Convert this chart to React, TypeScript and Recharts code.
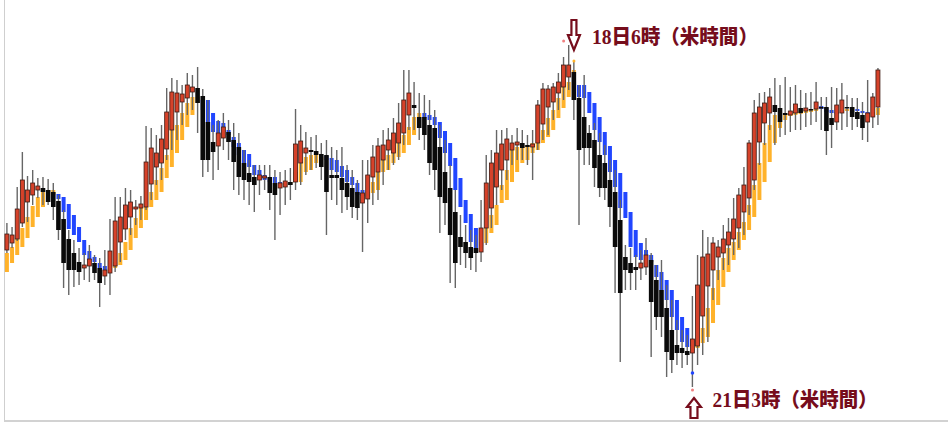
import { Bar, ComposedChart, ReferenceDot, XAxis, YAxis } from "recharts";

// hourly candles, values in chart units (higher = higher price)
const openPrices = [
  200, 207, 211, 227, 248, 255, 260, 262, 260, 258,
  249, 231, 211, 197, 188, 182, 184, 187, 182, 174,
  177, 184, 208, 221, 233, 241, 242, 243, 266, 283,
  287, 301, 320, 338, 348, 352, 358, 362, 354, 328,
  308, 304, 312, 318, 310, 303, 287, 277, 273, 270,
  272, 273, 267, 262, 263, 268, 268, 287, 297, 300,
  299, 296, 295, 275, 275, 272, 267, 262, 258, 247,
  251, 273, 278, 290, 300, 297, 307, 317, 335, 345,
  333, 333, 325, 322, 303, 278, 262, 238, 213, 208,
  203, 202, 198, 222, 242, 263, 280, 290, 300, 305,
  307, 305, 303, 307, 326, 343, 348, 357, 363, 373,
  378, 352, 333, 317, 310, 295, 287, 270, 258, 230,
  193, 187, 183, 182, 183, 190, 170, 160, 142, 120,
  105, 102, 99, 97, 104, 134, 164, 180, 193, 197,
  205, 211, 222, 238, 252, 270, 308, 327, 337, 345,
  342, 337, 335, 337, 342, 339, 341, 341, 343, 343,
  332, 328, 337, 343, 343, 338, 335, 328, 333, 343,
];
const highPrices = [
  227, 223, 263, 298, 274, 280, 272, 273, 271, 267,
  255, 240, 220, 210, 202, 197, 205, 195, 192, 200,
  231, 253, 253, 262, 260, 250, 254, 324, 322, 315,
  325, 362, 372, 370, 365, 377, 375, 383, 361, 350,
  325, 330, 337, 330, 327, 317, 300, 290, 285, 285,
  285, 285, 280, 278, 280, 282, 341, 325, 318, 313,
  315, 307, 310, 303, 300, 303, 285, 280, 270, 290,
  290, 305, 312, 320, 322, 332, 347, 380, 380, 368,
  357, 355, 350, 340, 325, 310, 285, 260, 235, 225,
  220, 215, 250, 295, 300, 320, 320, 322, 315, 322,
  320, 315, 320, 350, 367, 365, 367, 377, 393, 405,
  388, 365, 375, 325, 327, 317, 305, 290, 280, 250,
  205, 202, 195, 200, 212, 197, 185, 190, 165, 150,
  130, 120, 115, 154, 195, 220, 213, 213, 210, 225,
  232, 252, 262, 283, 310, 350, 357, 358, 362, 372,
  365, 373, 363, 365, 360, 357, 358, 368, 353, 353,
  363, 362, 367, 355, 352, 352, 348, 370, 357, 382,
];
const lowPrices = [
  197, 202, 209, 223, 228, 245, 252, 245, 245, 230,
  210, 162, 155, 163, 165, 170, 168, 170, 143, 165,
  155, 178, 188, 210, 215, 225, 230, 240, 250, 265,
  270, 290, 300, 310, 325, 335, 340, 317, 273, 278,
  270, 280, 300, 290, 260, 255, 250, 245, 238, 255,
  260, 240, 210, 235, 245, 250, 260, 265, 275, 280,
  282, 270, 215, 250, 245, 237, 240, 232, 230, 198,
  227, 245, 250, 265, 280, 285, 290, 305, 320, 320,
  310, 300, 275, 260, 217, 225, 167, 162, 185, 182,
  180, 178, 188, 205, 222, 245, 260, 270, 285, 290,
  290, 285, 270, 300, 310, 315, 330, 340, 350, 360,
  330, 225, 285, 285, 263, 253, 250, 223, 157, 88,
  160, 160, 160, 170, 175, 93, 120, 113, 73, 77,
  85, 82, 85, 63, 85, 95, 108, 150, 170, 180,
  185, 195, 202, 215, 235, 260, 285, 305, 320, 305,
  313, 315, 318, 320, 320, 323, 325, 328, 320, 295,
  302, 320, 320, 323, 320, 323, 310, 308, 322, 325,
];
const closePrices = [
  216, 215, 241, 270, 260, 267, 264, 258, 248, 243,
  220, 187, 180, 180, 178, 185, 191, 177, 167, 180,
  199, 229, 233, 245, 248, 243, 246, 288, 302, 297,
  311, 338, 358, 357, 356, 365, 363, 347, 290, 290,
  298, 317, 323, 308, 288, 273, 270, 268, 265, 275,
  274, 257, 255, 267, 269, 265, 306, 309, 302, 298,
  295, 283, 258, 272, 272, 260, 253, 243, 242, 257,
  275, 293, 304, 305, 310, 317, 327, 350, 357, 342,
  322, 315, 287, 280, 253, 247, 215, 187, 203, 197,
  192, 197, 222, 267, 287, 297, 306, 311, 307, 308,
  302, 303, 306, 345, 361, 361, 363, 368, 385, 385,
  350, 300, 302, 302, 282, 262, 262, 243, 203, 157,
  180, 177, 180, 187, 195, 148, 133, 133, 98, 90,
  97, 97, 95, 111, 165, 193, 196, 207, 203, 211,
  218, 231, 255, 265, 307, 337, 343, 347, 353, 338,
  328, 335, 339, 346, 337, 342, 340, 348, 342, 319,
  325, 345, 350, 342, 333, 331, 322, 337, 353, 380,
];
// smoothed heikin-ashi overlay (orange = rising, blue = falling)
const haOpenPrices = [
  178, 187, 195, 203, 212, 223, 233, 243, 252, 255,
  256, 253, 246, 235, 223, 210, 199, 193, 187, 184,
  177, 182, 185, 190, 200, 212, 222, 230, 243, 250,
  258, 272, 283, 297, 310, 323, 335, 347, 350, 350,
  337, 329, 327, 320, 313, 307, 300, 296, 285, 280,
  275, 273, 273, 268, 265, 266, 268, 268, 278, 280,
  287, 290, 294, 292, 290, 284, 280, 273, 267, 260,
  253, 257, 260, 278, 280, 287, 293, 297, 305, 315,
  333, 337, 335, 333, 328, 319, 307, 292, 272, 250,
  236, 222, 208, 207, 217, 225, 247, 250, 268, 278,
  287, 290, 297, 300, 307, 313, 320, 332, 342, 353,
  377, 365, 365, 358, 347, 333, 318, 304, 290, 277,
  258, 238, 220, 207, 200, 195, 185, 178, 170, 160,
  150, 133, 122, 111, 102, 107, 113, 127, 145, 163,
  178, 190, 200, 210, 220, 233, 250, 268, 288, 307,
  322, 330, 334, 335, 336, 337, 338, 339, 344, 342,
  340, 338, 337, 339, 340, 341, 339, 338, 334, 335,
];
const haClosePrices = [
  197, 203, 211, 222, 233, 244, 253, 258, 260, 260,
  251, 238, 221, 215, 208, 195, 190, 188, 182, 180,
  182, 188, 197, 208, 222, 232, 242, 243, 258, 270,
  282, 295, 325, 325, 337, 347, 353, 353, 340, 328,
  318, 315, 323, 315, 303, 295, 287, 283, 275, 273,
  270, 268, 267, 265, 267, 268, 278, 287, 293, 295,
  297, 293, 290, 280, 278, 273, 268, 265, 255, 254,
  258, 268, 280, 292, 295, 302, 312, 315, 323, 333,
  337, 332, 330, 325, 312, 297, 284, 260, 243, 227,
  208, 202, 204, 222, 235, 245, 265, 280, 300, 303,
  305, 303, 307, 310, 320, 332, 340, 352, 363, 368,
  380, 353, 352, 337, 320, 308, 295, 278, 263, 242,
  232, 203, 193, 190, 192, 188, 173, 160, 150, 133,
  120, 108, 103, 104, 110, 122, 142, 162, 180, 192,
  202, 208, 218, 228, 245, 265, 287, 307, 325, 335,
  337, 336, 337, 338, 339, 340, 340, 341, 341, 338,
  337, 336, 340, 341, 342, 339, 337, 336, 338, 342,
];

const topLabel = "18日6時（米時間）";
const bottomLabel = "21日3時（米時間）";
const topIndex = 110;
const bottomIndex = 133;

const candles = openPrices.map((open, i) => ({
  idx: i,
  open,
  high: highPrices[i],
  low: lowPrices[i],
  close: closePrices[i],
  haOpen: haOpenPrices[i],
  haClose: haClosePrices[i],
}));

type Candle = (typeof candles)[number];

const candleRange = (d: Candle): [number, number] => [
  Math.min(d.low, d.haOpen, d.haClose),
  Math.max(d.high, d.haOpen, d.haClose),
];

const maroon = "#760d1c";

const CandleShape = (props: any) => {
  const { x, y, width, height, payload } = props;
  const d = payload as Candle;
  const [lo, hi] = candleRange(d);
  const top = height >= 0 ? y : y + height;
  const h = Math.abs(height);
  const toY = (v: number) => top + ((hi - v) / (hi - lo)) * h;
  const cx = x + width / 2;

  const up = d.close >= d.open;
  const bodyTop = toY(Math.max(d.open, d.close));
  const bodyH = Math.max(1.5, Math.abs(toY(d.open) - toY(d.close)));

  const haUp = d.haClose >= d.haOpen;
  const haTop = toY(Math.max(d.haOpen, d.haClose));
  const haH = Math.max(2, Math.abs(toY(d.haOpen) - toY(d.haClose)));

  return (
    <g>
      <rect x={cx - 2} y={haTop} width={4} height={haH} fill={haUp ? "#ffb22a" : "#2146ff"} />
      <line x1={cx} x2={cx} y1={toY(d.high)} y2={toY(d.low)} stroke="#666" strokeWidth={1.4} />
      {up ? (
        <rect x={cx - 2} y={bodyTop} width={4} height={bodyH} fill="#d6422a" stroke="#3d1a12" strokeWidth={0.8} />
      ) : (
        <rect x={cx - 2.3} y={bodyTop} width={4.6} height={bodyH} fill="#0a0a0a" />
      )}
    </g>
  );
};

const labelFont = "'Liberation Serif', 'DejaVu Serif', 'Noto Sans CJK JP', serif";

const DownArrow = (props: any) => {
  const { cx, cy } = props;
  return (
    <g>
      <path
        d={`M${cx - 2.5},${cy - 30} L${cx + 2.5},${cy - 30} L${cx + 2.5},${cy - 15} L${cx + 6},${cy - 15} L${cx},${cy} L${cx - 6},${cy - 15} L${cx - 2.5},${cy - 15} Z`}
        fill="#fff"
        stroke={maroon}
        strokeWidth={2.2}
      />
      <text x={cx + 18} y={cy - 13} dominantBaseline="central" fontFamily={labelFont} fontWeight={900} fontSize={20} fill={maroon} textLength={166} lengthAdjust="spacingAndGlyphs">
        {topLabel}
      </text>
    </g>
  );
};

const UpArrow = (props: any) => {
  const { cx, cy } = props;
  const ax = cx + 1.5;
  return (
    <g>
      <path
        d={`M${ax},${cy} L${ax + 7},${cy + 9} L${ax + 3.5},${cy + 9} L${ax + 3.5},${cy + 20} L${ax - 3.5},${cy + 20} L${ax - 3.5},${cy + 9} L${ax - 7},${cy + 9} Z`}
        fill="#fff"
        stroke={maroon}
        strokeWidth={2.2}
      />
      <text x={cx + 20} y={cy + 2} dominantBaseline="central" fontFamily={labelFont} fontWeight={900} fontSize={20} fill={maroon} textLength={165} lengthAdjust="spacingAndGlyphs">
        {bottomLabel}
      </text>
    </g>
  );
};

export default function App() {
  return (
    <div style={{ position: "absolute", left: 0, top: 0, width: 948, height: 426, background: "#fff" }}>
      <div
        style={{
          position: "absolute",
          left: 4,
          top: 0,
          width: 944,
          height: 420,
          borderLeft: "1px solid #cfcfcf",
          borderBottom: "2px solid #d2d2d2",
        }}
      />
      <div style={{ position: "absolute", left: 0, top: 0 }}>
        <ComposedChart
          width={948}
          height={426}
          data={candles}
          margin={{ top: 0, right: 67.4, bottom: 0, left: 4.4 }}
          barCategoryGap={0}
        >
          <XAxis dataKey="idx" type="category" hide />
          <YAxis type="number" domain={[24, 450]} allowDataOverflow hide />
          <Bar dataKey={candleRange} shape={CandleShape} isAnimationActive={false} />
          <ReferenceDot x={108} y={409} r={1.5} fill="#f08080" stroke="none" />
          <ReferenceDot x={110} y={389} r={1.5} fill="#ffb22a" stroke="none" />
          <ReferenceDot x={bottomIndex} y={77} r={1.8} fill="#2146ff" stroke="none" />
          <ReferenceDot x={bottomIndex} y={60} r={1.5} fill="#f08080" stroke="none" />
          <ReferenceDot x={topIndex} y={400} shape={DownArrow} />
          <ReferenceDot x={bottomIndex} y={52} shape={UpArrow} />
        </ComposedChart>
      </div>
    </div>
  );
}
